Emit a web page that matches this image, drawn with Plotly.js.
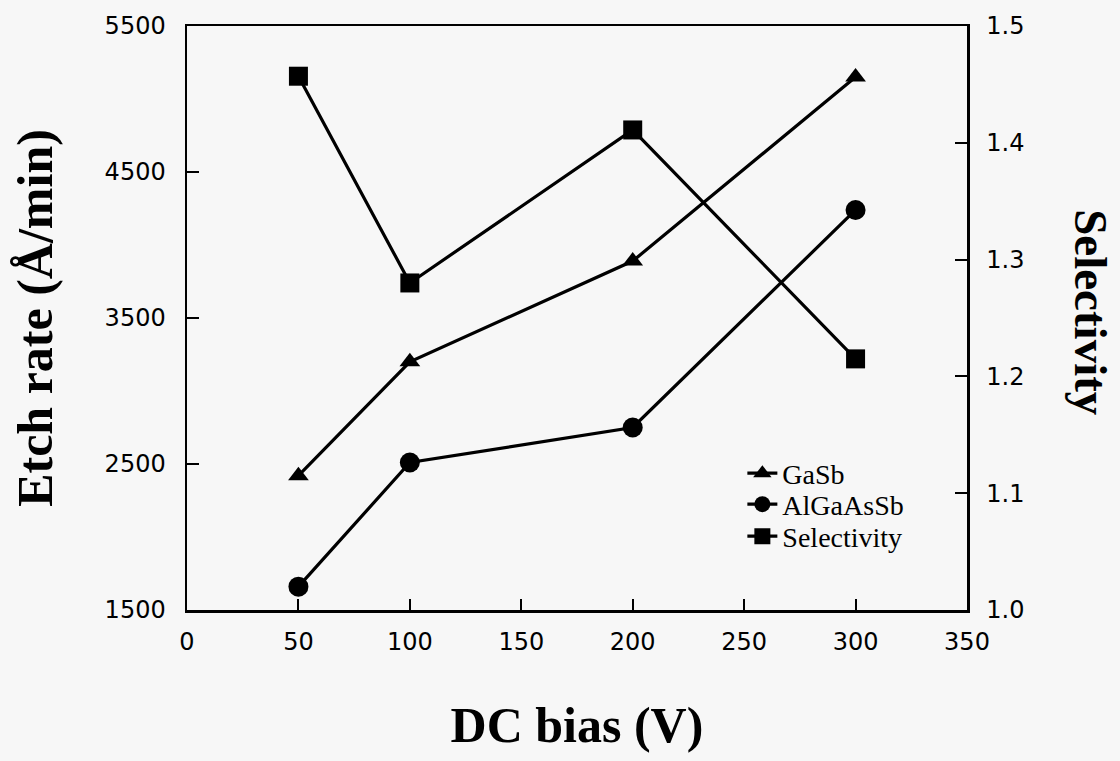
<!DOCTYPE html>
<html>
<head>
<meta charset="utf-8">
<script src="https://cdn.plot.ly/plotly-3.0.1.min.js"></script>
<style>
  html, body { margin: 0; padding: 0; background: #f7f7f7; }
  #chart { width: 1120px; height: 761px; }
</style>
</head>
<body>
<div id="chart"></div>
<script>
// Data
const dcBias = [50, 100, 200, 300];            // DC bias (V)
const gasbRate = [2420, 3200, 3890, 5150];     // GaSb etch rate (Å/min)
const algaassbRate = [1660, 2510, 2750, 4240]; // AlGaAsSb etch rate (Å/min)
const selectivity = [1.457, 1.280, 1.411, 1.215];

const xTicks = [0, 50, 100, 150, 200, 250, 300, 350];
const yTicks = [1500, 2500, 3500, 4500, 5500];
const y2Ticks = [1.0, 1.1, 1.2, 1.3, 1.4, 1.5];

const black = '#000000';
const lineStyle = { color: black, width: 3.2 };

const traces = [
  {
    x: dcBias, y: gasbRate, name: 'GaSb', type: 'scatter', mode: 'lines+markers',
    legend: 'legend',
    line: lineStyle, marker: { symbol: 'triangle-up', size: 18, color: black }
  },
  {
    x: dcBias, y: algaassbRate, name: 'AlGaAsSb', type: 'scatter', mode: 'lines+markers',
    legend: 'legend2',
    line: lineStyle, marker: { symbol: 'circle', size: 20, color: black }
  },
  {
    x: dcBias, y: selectivity, name: 'Selectivity', type: 'scatter', mode: 'lines+markers',
    yaxis: 'y2', legend: 'legend3',
    line: lineStyle, marker: { symbol: 'square', size: 19, color: black }
  }
];

const tickFont = { family: 'DejaVu Sans', size: 24, color: black };
const titleFont = { family: 'Liberation Serif', size: 50, color: black, weight: 'bold' };
const legendFont = { family: 'Liberation Serif', size: 28, color: black };

function legendAt(y) {
  return {
    x: 0.712, y: y, xanchor: 'left', yanchor: 'top',
    bgcolor: 'rgba(0,0,0,0)', borderwidth: 0,
    font: legendFont, itemwidth: 30
  };
}

const layout = {
  width: 1120, height: 761,
  paper_bgcolor: '#f7f7f7', plot_bgcolor: '#f7f7f7',
  margin: { l: 187, r: 153, t: 26, b: 151, autoexpand: false },
  showlegend: true,
  legend: legendAt(0.2765),
  legend2: legendAt(0.2235),
  legend3: legendAt(0.1687),
  xaxis: {
    range: [0, 350], tickvals: xTicks, ticktext: xTicks.map(String),
    showline: true, linecolor: black, linewidth: 2.5, mirror: true,
    ticks: 'inside', ticklen: 11, tickwidth: 2, tickcolor: black,
    showgrid: false, zeroline: false,
    tickfont: tickFont, ticklabelstandoff: 9,
    title: { text: 'DC bias (V)', font: titleFont, standoff: 52 }
  },
  yaxis: {
    range: [1500, 5500], tickvals: yTicks, ticktext: yTicks.map(String),
    showline: true, linecolor: black, linewidth: 2.5,
    ticks: 'inside', ticklen: 12, tickwidth: 2, tickcolor: black,
    showgrid: false, zeroline: false,
    tickfont: tickFont, ticklabelstandoff: 14,
    title: { text: 'Etch rate (Å/min)', font: titleFont, standoff: 36 }
  },
  yaxis2: {
    range: [1.0, 1.5], overlaying: 'y', side: 'right',
    tickvals: y2Ticks, ticktext: y2Ticks.map(v => v.toFixed(1)),
    showline: true, linecolor: black, linewidth: 2.5,
    ticks: 'inside', ticklen: 12, tickwidth: 2, tickcolor: black,
    showgrid: false, zeroline: false,
    tickfont: tickFont, ticklabelstandoff: 12
  },
  annotations: [
    {
      text: 'Selectivity', xref: 'paper', yref: 'paper',
      x: 1.159, y: 0.51, xanchor: 'center', yanchor: 'middle',
      textangle: 90, showarrow: false,
      font: { family: 'Liberation Serif', size: 47, color: black, weight: 'bold' }
    }
  ]
};

Plotly.newPlot('chart', traces, layout, { staticPlot: true, displayModeBar: false });
</script>
</body>
</html>
